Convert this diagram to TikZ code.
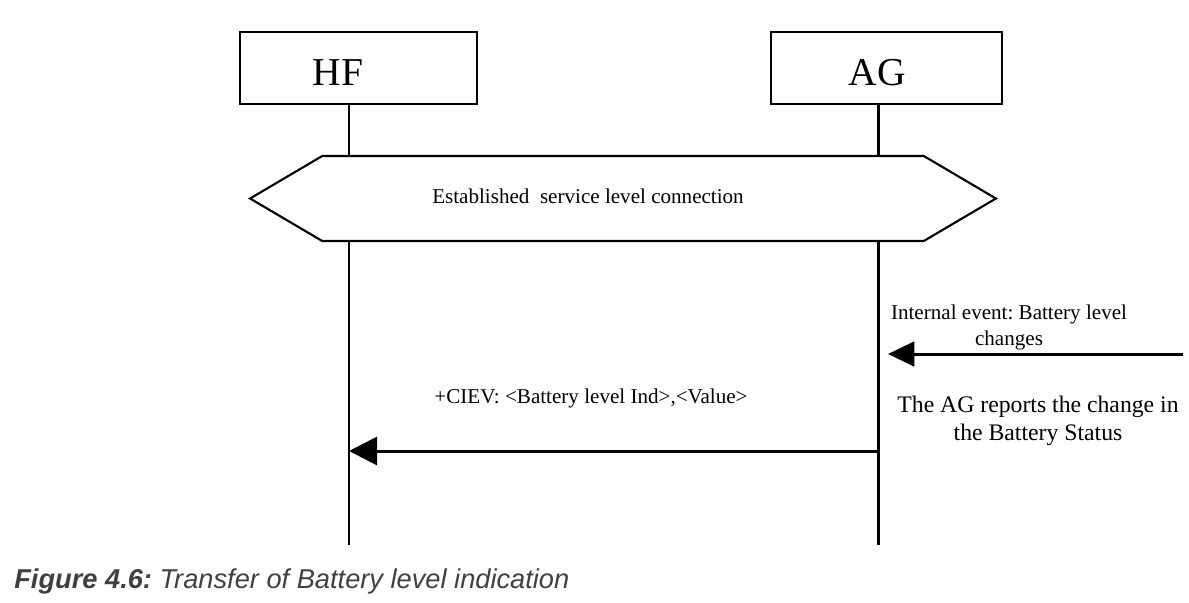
\documentclass[tikz,border=0pt]{standalone}
\usepackage{fontspec}
\setmainfont{Liberation Serif}
\newfontfamily\capfont{Liberation Sans}
\usetikzlibrary{arrows.meta,positioning,shapes.symbols}
\frenchspacing

\begin{document}
\begin{tikzpicture}[
  x=0.02cm, y=-0.02cm,
  actor/.style={draw=black, line width=0.9pt, minimum height=1.44cm, inner sep=0pt},
  actorlbl/.style={font=\fontsize{22.5}{26}\selectfont, inner sep=0pt},
  life/.style={draw=black, line width=1.7pt},
  slcbox/.style={signal, signal to=west and east, signal pointer angle=61, draw=black, line width=1.2pt, fill=white, minimum width=14.92cm, minimum height=1.7cm, inner sep=0pt},
  msglbl/.style={font=\fontsize{12}{14.8}\selectfont, align=center, inner sep=0pt},
  msg/.style={-{Triangle[length=15pt, width=14pt]}, draw=black, line width=1.7pt}
]
\useasboundingbox (0,0) rectangle (1189,602);
% entities
\node[actor, minimum width=4.74cm] (hf) at (358.5,68) {};
\node[actor, minimum width=4.62cm] (ag) at (886.5,68) {};
\node[actorlbl] (hflbl) at (338,73) {HF};
\node[actorlbl] (aglbl) at (877,73) {AG};
\coordinate (hfend) at (349,545);
\coordinate (agend) at (878,545);
\draw[life] (hf.south -| hfend) -- (hfend);
\draw[life] (ag.south -| agend) -- (agend);
% service level connection
\node[slcbox] (slc) at (623,198.5) {};
\node[msglbl] (slclbl) at (588,196) {Established~ service level connection};
% internal event
\coordinate (evsrc) at (1183,354);
\coordinate (evtip) at (888,354);
\draw[msg] (evsrc) -- (evtip);
\node[msglbl] (evlbl) at (1009,327) {Internal event: Battery level\\changes};
\node[msglbl, font=\fontsize{13.5}{16}\selectfont] (reportlbl) at (1038,421) {The AG reports the change in\\the Battery Status};
% indication
\coordinate (agmsg) at (878,451);
\coordinate (hfmsg) at (349,451);
\draw[msg, -{Triangle[length=16pt, width=16pt]}] (agmsg) -- (hfmsg);
\node[msglbl] (cievlbl) at (591,398) {+CIEV: \textless Battery level Ind\textgreater,\textless Value\textgreater};
% caption
\node[anchor=west, inner sep=0pt, font=\capfont\fontsize{15.5}{18}\selectfont\itshape, text=black!75] (caption) at (14,581) {\textbf{Figure 4.6:} Transfer of Battery level indication};
\end{tikzpicture}
\end{document}
